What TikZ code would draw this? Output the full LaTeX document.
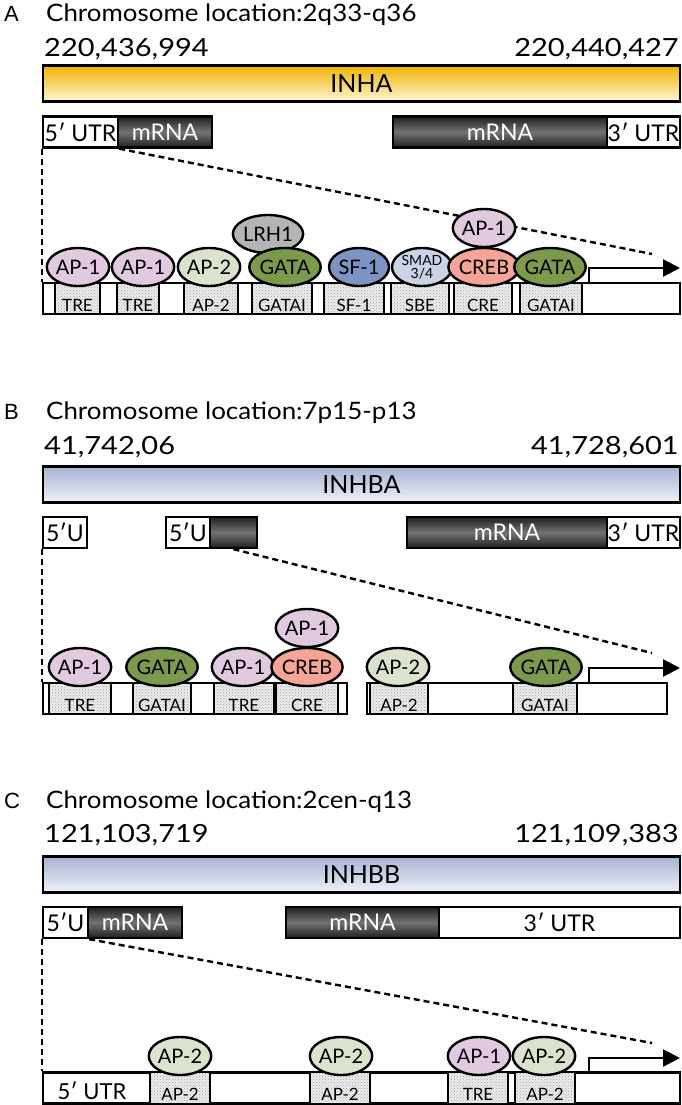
\documentclass[tikz,border=0pt]{standalone}
\usepackage{fontspec}
\setmainfont{Lato}
\newfontfamily\numfont[FakeStretch=1.16]{Lato}
\newfontfamily\ttlfont[FakeStretch=1.08]{Lato}
\newfontfamily\lblfont{Liberation Sans}
\usetikzlibrary{shapes.geometric,arrows.meta,patterns}
\definecolor{goldT}{RGB}{238,178,0}
\definecolor{goldB}{RGB}{255,246,214}
\definecolor{blueT}{RGB}{166,178,210}
\definecolor{blueB}{RGB}{240,242,250}
\definecolor{ap1}{RGB}{225,201,224}
\definecolor{ap2}{RGB}{220,227,204}
\definecolor{gata}{RGB}{123,154,76}
\definecolor{lrh}{RGB}{180,180,180}
\definecolor{sf1}{RGB}{125,147,196}
\definecolor{smad}{RGB}{203,211,231}
\definecolor{creb}{RGB}{245,164,149}
\begin{document}
\begin{tikzpicture}[x=1pt,y=-1pt,
  panellbl/.style={anchor=base west,inner sep=0,font=\lblfont\fontsize{22}{22}\selectfont},
  ttl/.style={anchor=base west,inner sep=0,font=\ttlfont\fontsize{24}{24}\selectfont},
  numl/.style={anchor=base west,inner sep=0,font=\numfont\fontsize{25}{25}\selectfont},
  numr/.style={numl,anchor=base east},
  gene/.style={draw,line width=2.6pt,minimum width=637pt,minimum height=36pt,inner sep=0,font=\fontsize{25}{25}\selectfont},
  geneA/.style={gene,top color=goldT,bottom color=goldB},
  geneB/.style={gene,top color=blueT,bottom color=blueB},
  utr/.style={draw,line width=2.4pt,fill=white,minimum height=31pt,inner sep=0,font=\fontsize{23}{23}\selectfont},
  mrna/.style={draw,line width=2.4pt,top color=black!88,bottom color=black!88,middle color=black!55,minimum height=31pt,inner sep=0,text=white,font=\fontsize{23}{23}\selectfont},
  prom/.style={draw,line width=2.4pt,fill=white,minimum height=31pt,inner sep=0},
  site/.style={draw,line width=1.5pt,preaction={fill=gray!15},pattern=crosshatch dots,pattern color=gray!70,minimum height=31pt,inner sep=0},
  sitelab/.style={anchor=base,inner sep=0,font=\fontsize{17}{17}\selectfont},
  tf/.style={ellipse,draw,line width=2.4pt,minimum width=60pt,minimum height=38pt,inner sep=0,font=\fontsize{20}{20}\selectfont},
  dashedln/.style={line width=2.4pt,dash pattern=on 6pt off 4pt},
  promarrow/.style={line width=2.4pt,-{Triangle[length=17pt,width=17pt]}}
]
\useasboundingbox[fill=white] (0,0) rectangle (681,1105);

% ================= Panel A =================
\node[panellbl] (lA) at (4,22) {A};
\node[ttl] (tA) at (46,22) {Chromosome location:2q33-q36};
\node[numl] (nA1) at (44,57) {220,436,994};
\node[numr] (nA2) at (679,57) {220,440,427};
\node[geneA] (gA) at (361.5,83.5) {INHA};
\node[utr,minimum width=75pt] (a5u) at (80.5,132) {5′ UTR};
\node[mrna,minimum width=94pt] (a5m) at (165,132) {mRNA};
\node[mrna,minimum width=214pt] (a3m) at (500,132) {mRNA};
\node[utr,minimum width=73pt] (a3u) at (643.5,132) {3′ UTR};
\node[prom,minimum width=637pt] (pA) at (361.5,298.5) {};
\coordinate (endA) at (652,254);
\draw[dashedln] (a5u.south west) -- (pA.north west);
\draw[dashedln] (a5u.south east) -- (endA);
\node[site,minimum width=45pt] (sA1) at (77.5,298.5) {};
\node[site,minimum width=42pt] (sA2) at (138,298.5) {};
\node[site,minimum width=54pt] (sA3) at (211,298.5) {};
\node[site,minimum width=60pt] (sA4) at (282,298.5) {};
\node[site,minimum width=60pt] (sA5) at (354,298.5) {};
\node[site,minimum width=58pt] (sA6) at (420,298.5) {};
\node[site,minimum width=58pt] (sA7) at (483,298.5) {};
\node[site,minimum width=62pt] (sA8) at (551,298.5) {};
\node[sitelab] at (77.5,311) {TRE};
\node[sitelab] at (138,311) {TRE};
\node[sitelab] at (211,311) {AP-2};
\node[sitelab] at (282,311) {GATAI};
\node[sitelab] at (354,311) {SF-1};
\node[sitelab] at (420,311) {SBE};
\node[sitelab] at (483,311) {CRE};
\node[sitelab] at (551,311) {GATAI};
\coordinate (arA0) at (589,283);
\coordinate (arA1) at (680,268);
\draw[promarrow] (arA0) |- (arA1);
\node[tf,fill=ap1] (cA1) at (78,267) {AP-1};
\node[tf,fill=ap1] (cA2) at (143,267) {AP-1};
\node[tf,fill=ap2] (cA3) at (209,267) {AP-2};
\node[tf,fill=lrh] (cA4t) at (268,234) {LRH1};
\node[tf,fill=gata] (cA4) at (285,267) {GATA};
\node[tf,fill=sf1] (cA5) at (359,267) {SF-1};
\node[tf,fill=smad] (cA6) at (422,267) {\shortstack{\fontsize{14}{11}\selectfont SMAD\\\fontsize{14}{11}\selectfont 3/4}};
\node[tf,fill=creb] (cA7) at (484,267) {CREB};
\node[tf,fill=ap1] (cA7t) at (484,228) {AP-1};
\node[tf,fill=gata] (cA8) at (550,267) {GATA};

% ================= Panel B =================
\node[panellbl] (lB) at (4,419) {B};
\node[ttl] (tB) at (46,419) {Chromosome location:7p15-p13};
\node[numl] (nB1) at (44,454) {41,742,06};
\node[numr] (nB2) at (679,454) {41,728,601};
\node[geneB] (gB) at (361.5,484.5) {INHBA};
\node[utr,minimum width=44pt] (b5u1) at (65,532.5) {5′U};
\node[utr,minimum width=44pt] (b5u2) at (188,532.5) {5′U};
\node[mrna,minimum width=47pt] (b5m) at (233.5,532.5) {};
\node[mrna,minimum width=200pt] (b3m) at (507,532.5) {mRNA};
\node[utr,minimum width=73pt] (b3u) at (643.5,532.5) {3′ UTR};
\node[prom,minimum width=304pt] (pB1) at (195,698.5) {};
\node[prom,minimum width=300pt] (pB2) at (517,698.5) {};
\coordinate (endB) at (652,653);
\draw[dashedln] (b5u1.south west) -- (pB1.north west);
\draw[dashedln] (b5m.south) -- (endB);
\node[site,minimum width=62pt] (sB1) at (80,698.5) {};
\node[site,minimum width=58pt] (sB2) at (162,698.5) {};
\node[site,minimum width=60pt] (sB3) at (244,698.5) {};
\node[site,minimum width=62pt] (sB4) at (307,698.5) {};
\node[site,minimum width=58pt] (sB5) at (399,698.5) {};
\node[site,minimum width=64pt] (sB6) at (545,698.5) {};
\node[sitelab] at (80,711) {TRE};
\node[sitelab] at (162,711) {GATAI};
\node[sitelab] at (244,711) {TRE};
\node[sitelab] at (307,711) {CRE};
\node[sitelab] at (399,711) {AP-2};
\node[sitelab] at (545,711) {GATAI};
\coordinate (arB0) at (589,683);
\coordinate (arB1) at (680,668);
\draw[promarrow] (arB0) |- (arB1);
\node[tf,fill=ap1] (cB1) at (80,667) {AP-1};
\node[tf,fill=gata] (cB2) at (162,667) {GATA};
\node[tf,fill=ap1] (cB3) at (243,667) {AP-1};
\node[tf,fill=creb] (cB4) at (307,667) {CREB};
\node[tf,fill=ap1] (cB4t) at (307,628) {AP-1};
\node[tf,fill=ap2] (cB5) at (398,667) {AP-2};
\node[tf,fill=gata] (cB6) at (546,667) {GATA};

% ================= Panel C =================
\node[panellbl] (lC) at (4,808) {C};
\node[ttl] (tC) at (46,808) {Chromosome location:2cen-q13};
\node[numl] (nC1) at (44,842) {121,103,719};
\node[numr] (nC2) at (679,842) {121,109,383};
\node[geneB] (gC) at (361.5,874.5) {INHBB};
\node[utr,minimum width=45pt] (c5u) at (65.5,922.5) {5′U};
\node[mrna,minimum width=94pt] (c5m) at (135,922.5) {mRNA};
\node[mrna,minimum width=153pt] (c3m) at (362.5,922.5) {mRNA};
\node[utr,minimum width=241pt] (c3u) at (559.5,922.5) {3′ UTR};
\node[prom,minimum width=637pt] (pC) at (361.5,1088) {};
\coordinate (endC) at (652,1043);
\draw[dashedln] (c5u.south west) -- (pC.north west);
\draw[dashedln] (c5u.south east) -- (endC);
\node[anchor=base,inner sep=0,font=\fontsize{22}{22}\selectfont] (c5t) at (92,1099) {5′ UTR};
\node[site,minimum width=60pt] (sC1) at (180,1088) {};
\node[site,minimum width=60pt] (sC2) at (340,1088) {};
\node[site,minimum width=60pt] (sC3) at (478,1088) {};
\node[site,minimum width=60pt] (sC4) at (545,1088) {};
\node[sitelab] at (180,1100) {AP-2};
\node[sitelab] at (340,1100) {AP-2};
\node[sitelab] at (478,1100) {TRE};
\node[sitelab] at (545,1100) {AP-2};
\coordinate (arC0) at (589,1072.5);
\coordinate (arC1) at (680,1058);
\draw[promarrow] (arC0) |- (arC1);
\node[tf,fill=ap2] (cC1) at (180,1056) {AP-2};
\node[tf,fill=ap2] (cC2) at (341,1056) {AP-2};
\node[tf,fill=ap1] (cC3) at (479,1056) {AP-1};
\node[tf,fill=ap2] (cC4) at (544,1056) {AP-2};
\end{tikzpicture}
\end{document}
